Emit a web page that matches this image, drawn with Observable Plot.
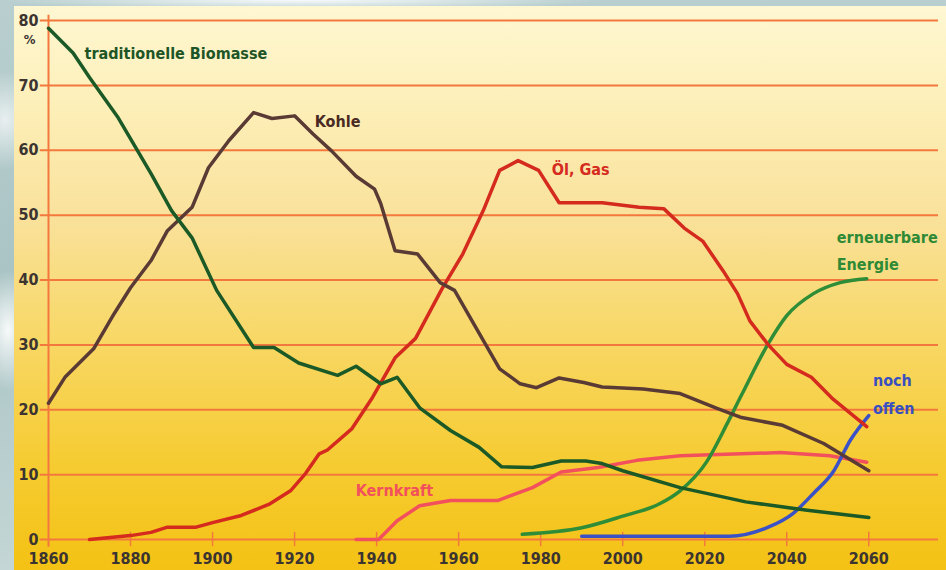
<!DOCTYPE html>
<html>
<head>
<meta charset="utf-8">
<script src="https://cdn.jsdelivr.net/npm/d3@7"></script>
<script src="https://cdn.jsdelivr.net/npm/@observablehq/plot@0.6"></script>
<style>
  html, body { margin: 0; padding: 0; }
  body {
    width: 946px; height: 570px; overflow: hidden;
    background:
      radial-gradient(ellipse 30px 60px at 8px 330px, rgba(255,255,255,0.9), rgba(255,255,255,0) 100%),
      radial-gradient(ellipse 40px 50px at 5px 120px, rgba(255,255,255,0.7), rgba(255,255,255,0) 100%),
      radial-gradient(ellipse 300px 10px at 300px 0px, rgba(255,255,255,0.9), rgba(255,255,255,0) 100%),
      linear-gradient(to bottom, #b9cfcf, #a9c3c4 50%, #c4d6d6);
  }
  #wrap { position: relative; width: 946px; height: 570px; }
  #panel {
    position: absolute; left: 14px; top: 6px; width: 932px; height: 564px;
    background: linear-gradient(to bottom, #fef7d2 0%, #fdefb8 18%, #f9e19a 38%, #f8d868 58%, #f6cc34 80%, #f4c214 100%);
  }
  #chart { position: absolute; left: 0; top: 0; }
</style>
</head>
<body>
<div id="wrap"><div id="panel"></div><div id="chart"></div></div>
<script>
// ---- data (percent share of world primary energy) ----
const biomasseYears  = [1860,1866,1870,1877,1885,1890,1895,1901,1910,1915,1921,1930.5,1935,1941,1945,1950.5,1958,1965,1970.5,1978,1985,1991,1995,2000,2014,2030,2045,2060];
const biomasseValues = [78.8,75,71.2,65,56.4,50.7,46.5,38.4,29.6,29.6,27.2,25.3,26.7,24,25,20.3,16.8,14.2,11.2,11.1,12.1,12.1,11.7,10.6,8,5.8,4.5,3.4];

const kohleYears  = [1860,1864,1871,1876,1880,1885,1889,1895,1899,1904,1910,1914.5,1920,1924.5,1929,1935,1939.5,1941,1944.5,1950,1955.5,1959,1966,1970,1975,1979,1984.5,1990.5,1995,2005,2014,2023,2029,2039,2049,2060];
const kohleValues = [21,25,29.4,34.8,38.8,43,47.6,51.2,57.3,61.5,65.8,64.9,65.3,62.5,59.9,56,54,51.8,44.5,44,39.6,38.4,30.7,26.3,24,23.4,24.9,24.2,23.5,23.2,22.5,20.2,18.8,17.6,14.8,10.6];

const oelYears  = [1870,1880,1885,1889,1896,1900,1907,1914,1919,1922.7,1926,1928,1934,1939,1944.5,1949.5,1956,1961,1966,1970,1974.5,1979.5,1984.5,1995,1999,2004,2010,2015,2019.5,2024.5,2028,2031,2035.5,2040,2046,2051,2059.5];
const oelValues = [0,0.6,1.1,1.9,1.9,2.6,3.7,5.5,7.5,10.2,13.2,13.8,17.1,21.9,28,31,38.7,44,50.7,56.9,58.4,56.9,51.9,51.9,51.6,51.2,51,48,46,41.4,37.9,33.7,30,27,25,21.8,17.4];

const kernYears  = [1935,1940.5,1945,1950.5,1958,1969.5,1978,1985,1994,2003.5,2014,2038.5,2050.5,2059.5];
const kernValues = [0,0,2.9,5.2,6,6,8,10.4,11.1,12.2,12.9,13.4,12.9,11.9];

const erneuerbarYears  = [1975.5,1990,2000,2009,2014,2020.5,2025.5,2029,2035.5,2040,2046.5,2053,2059.5];
const erneuerbarValues = [0.8,1.8,3.6,5.5,7.5,12,17.9,22.3,30.2,34.5,37.9,39.6,40.2];

const offenYears  = [1990,2026,2035.5,2041.5,2046.5,2051.5,2055.5,2060];
const offenValues = [0.5,0.5,1.9,4,7.1,10.6,15.3,19.1];

const yTicks = [0,10,20,30,40,50,60,70,80];
const xTicks = [1860,1880,1900,1920,1940,1960,1980,2000,2020,2040,2060];

const series = (years, values) => years.map((year, i) => ({year, value: values[i]}));
const biomasse = series(biomasseYears, biomasseValues);
const kohle = series(kohleYears, kohleValues);
const oel = series(oelYears, oelValues);
const kern = series(kernYears, kernValues);
const erneuerbar = series(erneuerbarYears, erneuerbarValues);
const offen = series(offenYears, offenValues);

const font = "'Liberation Sans Narrow', 'DejaVu Sans Condensed', 'Arial Narrow', sans-serif";
const grid = "#f3783e";
const lw = 3.5;

const label = (text, x, y, fill) =>
  Plot.text([text], {x: () => x, y: () => y, text: d => d, textAnchor: "start", fill,
    fontSize: 16, fontWeight: "bold", fontFamily: font});

const chart = Plot.plot({
  width: 946, height: 570,
  marginLeft: 48, marginRight: 8, marginTop: 20, marginBottom: 31,
  style: {background: "transparent", fontFamily: font, overflow: "visible"},
  x: {domain: [1860, 2077]},
  y: {domain: [0, 80]},
  marks: [
    Plot.ruleY(yTicks, {y: d => d, x1: 1858, x2: 2077, stroke: grid, strokeWidth: 2}),
    Plot.ruleX([1860], {x: d => d, y1: -1.2, y2: 80.8, stroke: grid, strokeWidth: 2}),
    Plot.ruleX(xTicks.slice(1), {x: d => d, y1: -1.1, y2: 1.1, stroke: grid, strokeWidth: 1.5}),
    Plot.axisY(yTicks, {tickSize: 0, tickPadding: 10, color: "#3b3430", fontSize: 16, fontWeight: "bold", label: null}),
    Plot.axisX(xTicks, {tickSize: 0, tickPadding: 13, color: "#3b3430", fontSize: 16, fontWeight: "bold", label: null, tickFormat: d => String(d)}),
    Plot.text(["%"], {x: () => 1860, y: () => 80, text: d => d, dx: -19, dy: 19, fill: "#3b3430", fontSize: 13, fontWeight: "bold", fontFamily: font}),
    Plot.line(kern, {x: "year", y: "value", stroke: "#f2505c", strokeWidth: lw}),
    Plot.line(offen, {x: "year", y: "value", stroke: "#3b52c6", strokeWidth: lw, curve: "monotone-x"}),
    Plot.line(erneuerbar, {x: "year", y: "value", stroke: "#2f8d38", strokeWidth: lw, curve: "monotone-x"}),
    Plot.line(oel, {x: "year", y: "value", stroke: "#d52a1e", strokeWidth: lw}),
    Plot.line(kohle, {x: "year", y: "value", stroke: "#5a3a34", strokeWidth: lw}),
    Plot.line(biomasse, {x: "year", y: "value", stroke: "#1b5a26", strokeWidth: lw}),
    label("traditionelle Biomasse", 1868.8, 74.9, "#1e5526"),
    label("Kohle", 1924.9, 64.3, "#4a2a22"),
    label("Öl, Gas", 1982.7, 56.9, "#d52a1e"),
    label("erneuerbare", 2052.2, 46.5, "#2f8a35"),
    label("Energie", 2052.2, 42.4, "#2f8a35"),
    label("noch", 2061, 24.5, "#3a4fc0"),
    label("offen", 2061, 20.2, "#3a4fc0"),
    label("Kernkraft", 1934.9, 7.5, "#f2505c")
  ]
});
document.getElementById("chart").appendChild(chart);
</script>
</body>
</html>
